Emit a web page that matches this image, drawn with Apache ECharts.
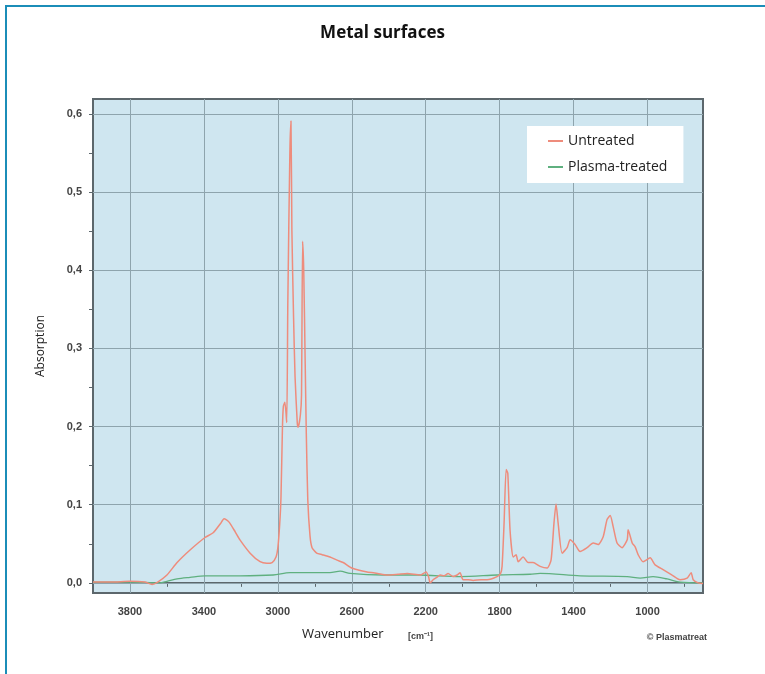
<!DOCTYPE html>
<html>
<head>
<meta charset="utf-8">
<script src="https://cdn.jsdelivr.net/npm/echarts@6/dist/echarts.min.js"></script>
<style>
html,body{margin:0;padding:0;background:#fff;}
#chart{width:765px;height:674px;}
</style>
</head>
<body>
<div id="chart"></div>
<script>
// ---- data ----
const untreatedWave = [4000,3900,3800,3720,3680,3650,3600,3545,3475,3394,3350,3310,3291,3265,3230,3205,3150,3096,3060,3031,3010,3000,2990,2983,2975,2970,2962,2952,2946,2935,2929,2924,2915,2907,2895,2890,2878,2872,2866,2860,2852,2846,2838,2826,2815,2790,2760,2718,2680,2647,2600,2560,2517,2460,2409,2350,2300,2230,2198,2185,2176,2160,2140,2122,2100,2079,2052,2030,2014,1998,1970,1944,1900,1868,1814,1795,1787,1776,1765,1756,1744,1727,1711,1700,1673,1646,1619,1581,1543,1522,1506,1495,1484,1462,1435,1419,1392,1365,1327,1294,1267,1240,1219,1202,1186,1165,1138,1110,1105,1083,1067,1051,1024,986,959,916,867,824,786,764,753,726,700];
const untreatedAbs = [0.001,0.001,0.002,0.001,-0.002,0.001,0.010,0.026,0.042,0.058,0.064,0.076,0.082,0.078,0.065,0.055,0.038,0.027,0.025,0.026,0.033,0.045,0.075,0.110,0.200,0.226,0.231,0.205,0.36,0.55,0.591,0.45,0.34,0.264,0.205,0.199,0.215,0.24,0.437,0.40,0.28,0.19,0.106,0.060,0.045,0.038,0.036,0.033,0.029,0.026,0.019,0.016,0.014,0.012,0.010,0.011,0.012,0.010,0.014,0.008,0.000,0.004,0.007,0.010,0.009,0.012,0.008,0.010,0.013,0.004,0.004,0.003,0.004,0.004,0.008,0.012,0.021,0.077,0.145,0.140,0.068,0.033,0.036,0.027,0.033,0.026,0.026,0.021,0.019,0.029,0.077,0.101,0.077,0.038,0.045,0.055,0.049,0.040,0.045,0.051,0.049,0.059,0.081,0.086,0.072,0.051,0.045,0.055,0.068,0.051,0.046,0.036,0.027,0.032,0.023,0.017,0.010,0.004,0.006,0.013,0.004,0.000,-0.001];
const plasmaWave = [4000,3800,3640,3600,3545,3475,3394,3205,3026,2934,2880,2718,2663,2609,2430,2247,2014,1814,1635,1581,1365,1110,1040,970,894,824,700];
const plasmaAbs = [0.001,0.001,0.000,0.002,0.005,0.007,0.009,0.009,0.010,0.013,0.013,0.013,0.015,0.012,0.010,0.010,0.008,0.010,0.011,0.012,0.009,0.008,0.006,0.008,0.005,0.001,0.000];
const xLabels = [3800,3400,3000,2600,2200,1800,1400,1000];
const xTicks = [3800,3600,3400,3200,3000,2800,2600,2400,2200,2000,1800,1600,1400,1200,1000,800];
const yLabels = [0,0.1,0.2,0.3,0.4,0.5,0.6];
const yTicks = [0,0.05,0.1,0.15,0.2,0.25,0.3,0.35,0.4,0.45,0.5,0.55,0.6];
const seriesNames = ['Untreated','Plasma-treated'];

const pairs = (xs, ys) => xs.map((x, i) => [x, ys[i]]);
const fmtY = v => v.toFixed(1).replace('.', ',');
const fmtX = v => String(Math.round(v));
const labelFont = "'Liberation Sans Narrow','Liberation Sans',Arial,sans-serif";
const textFont = "'Open Sans','Noto Sans',sans-serif";

const chart = echarts.init(document.getElementById('chart'), null, {renderer:'canvas'});
chart.setOption({
  animation: false,
  backgroundColor: '#ffffff',
  title: {
    text: 'Metal surfaces',
    left: 'center',
    top: 20,
    textStyle: {fontFamily: textFont, fontSize: 17, fontWeight: 'bold', color: '#111'}
  },
  legend: {
    orient: 'vertical',
    left: 527, top: 126,
    backgroundColor: '#ffffff',
    padding: [8, 16, 9, 21],
    itemWidth: 15, itemHeight: 2, itemGap: 12,
    icon: 'rect',
    data: seriesNames,
    textStyle: {fontFamily: textFont, fontSize: 14, color: '#222'}
  },
  grid: {
    left: 93, right: 62, top: 99, bottom: 81,
    show: true,
    backgroundColor: '#cfe6f0',
    borderColor: '#5c676c',
    borderWidth: 2
  },
  xAxis: {
    type: 'value',
    inverse: true,
    min: 700, max: 4000,
    axisLine: {show: true, lineStyle: {color: '#5c676c', width: 2}},
    axisTick: {show: true, length: 4, customValues: xTicks, lineStyle: {color: '#5c676c'}},
    axisLabel: {customValues: xLabels, formatter: fmtX, margin: 13, color: '#444', fontSize: 11, fontWeight: 'bold', fontFamily: labelFont},
    splitLine: {show: false}
  },
  yAxis: {
    type: 'value',
    min: -0.013, max: 0.619,
    name: 'Absorption',
    nameLocation: 'middle',
    nameGap: 46,
    nameTextStyle: {fontFamily: textFont, fontSize: 12, color: '#222'},
    axisLine: {show: true, lineStyle: {color: '#5c676c', width: 2}},
    axisTick: {show: true, length: 4, customValues: yTicks, lineStyle: {color: '#5c676c'}},
    axisLabel: {customValues: yLabels, formatter: fmtY, margin: 11, color: '#444', fontSize: 11, fontWeight: 'bold', fontFamily: labelFont},
    splitLine: {show: false}
  },
  series: [
    {
      name: 'Plasma-treated',
      type: 'line',
      data: pairs(plasmaWave, plasmaAbs),
      showSymbol: false,
      smooth: 0.3,
      z: 3,
      lineStyle: {color: '#5fb07f', width: 1.3},
      itemStyle: {color: '#5fb07f'},
      markLine: {
        silent: true,
        symbol: 'none',
        z: 1,
        label: {show: false},
        lineStyle: {color: '#8ea4ad', width: 1, type: 'solid'},
        data: xLabels.map(v => ({xAxis: v})).concat(yLabels.map(v => ({yAxis: v})))
      }
    },
    {
      name: 'Untreated',
      type: 'line',
      data: pairs(untreatedWave, untreatedAbs),
      showSymbol: false,
      smooth: 0.2,
      z: 4,
      lineStyle: {color: '#ee8c7c', width: 1.5},
      itemStyle: {color: '#ee8c7c'}
    }
  ],
  graphic: [
    {type: 'rect', shape: {x: 5, y: 5, width: 2, height: 669}, style: {fill: '#1b8db8'}, silent: true},
    {type: 'rect', shape: {x: 5, y: 5, width: 760, height: 2}, style: {fill: '#1b8db8'}, silent: true},
    {type: 'text', left: 302, top: 628, style: {text: 'Wavenumber', font: "13px 'Open Sans','Noto Sans',sans-serif", fill: '#222'}},
    {type: 'text', left: 408, top: 632, style: {text: '[cm⁻¹]', font: "bold 9px 'Liberation Sans Narrow','Liberation Sans',sans-serif", fill: '#444'}},
    {type: 'text', right: 58, top: 633, style: {text: '© Plasmatreat', font: "bold 9px 'Liberation Sans Narrow','Liberation Sans',sans-serif", fill: '#444'}}
  ]
});
</script>
</body>
</html>
